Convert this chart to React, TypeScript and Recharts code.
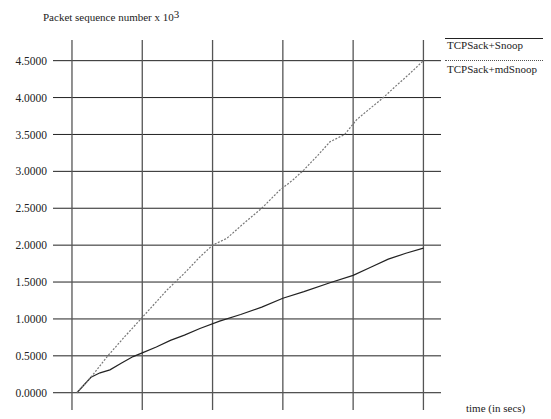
import React from 'react';
import { LineChart, XAxis, YAxis, Line, ReferenceLine } from 'recharts';

// time (grid columns at 0..50), sequence numbers x 10^3
const snoopTime = [0.7, 2.7, 4, 5.4, 7, 8.7, 10, 12, 14, 16, 18.2, 21, 24, 27, 30, 33, 36.7, 40, 42.5, 45, 47.5, 50];
const snoopSeq = [0, 0.21, 0.27, 0.31, 0.4, 0.49, 0.54, 0.62, 0.71, 0.78, 0.87, 0.97, 1.06, 1.16, 1.28, 1.37, 1.49, 1.59, 1.7, 1.81, 1.89, 1.96];

const mdTime = [0.7, 2.7, 5.1, 7.5, 9.8, 13.5, 16, 18.2, 20, 22, 24.5, 27, 29.5, 31.4, 33, 35, 36.7, 38.8, 40.5, 42, 44.3, 46, 48, 50];
const mdSeq = [0, 0.21, 0.5, 0.76, 1.0, 1.39, 1.62, 1.84, 2.0, 2.09, 2.3, 2.5, 2.74, 2.88, 3.02, 3.22, 3.4, 3.5, 3.7, 3.82, 4.0, 4.15, 4.32, 4.5];

const yTicks = [0, 0.5, 1, 1.5, 2, 2.5, 3, 3.5, 4, 4.5];
const xGrid = [0, 10, 20, 30, 40, 50];

const snoopData = snoopTime.map((t, i) => ({ t, v: snoopSeq[i] }));
const mdData = mdTime.map((t, i) => ({ t, v: mdSeq[i] }));

const font = '"Liberation Serif", "DejaVu Serif", serif';

function App(): JSX.Element {
  return (
    <div style={{ position: 'relative', width: 543, height: 411, fontFamily: font, fontSize: 11, color: '#222' }}>
      <LineChart width={543} height={411} margin={{ top: 32, right: 110, bottom: 9, left: 0 }}>
        <XAxis type="number" dataKey="t" domain={[-2.7, 52.5]} hide allowDataOverflow />
        <YAxis
          type="number"
          dataKey="v"
          domain={[-0.234, 4.78]}
          ticks={yTicks}
          width={45}
          axisLine={false}
          tickLine={false}
          tickMargin={0}
          interval={0}
          allowDataOverflow
          tickFormatter={(v: number) => v.toFixed(4)}
          tick={{ fill: '#222', fontSize: 11.5, fontFamily: font }}
        />
        {yTicks.map((y) => (
          <ReferenceLine key={'h' + y} y={y} stroke="#222" strokeWidth={1} />
        ))}
        {xGrid.map((x) => (
          <ReferenceLine key={'v' + x} x={x} stroke="#555" strokeWidth={1.3} />
        ))}
        <Line data={snoopData} dataKey="v" type="linear" stroke="#222" strokeWidth={1.2} dot={false} isAnimationActive={false} />
        <Line data={mdData} dataKey="v" type="linear" stroke="#777" strokeWidth={1.2} strokeDasharray="2 1.5" dot={false} isAnimationActive={false} />
      </LineChart>
      <div style={{ position: 'absolute', left: 35, top: 3, whiteSpace: 'nowrap' }}>
        Packet sequence number x 10<sup style={{ fontSize: 11, verticalAlign: 'top', position: 'relative', top: -3 }}>3</sup>
      </div>
      <div style={{ position: 'absolute', left: 458, top: 394, whiteSpace: 'nowrap' }}>time (in secs)</div>
      <div style={{ position: 'absolute', left: 437, top: 30, width: 106, borderTop: '1px solid #222' }} />
      <div style={{ position: 'absolute', left: 439, top: 31, whiteSpace: 'nowrap' }}>TCPSack+Snoop</div>
      <div style={{ position: 'absolute', left: 437, top: 52, width: 106, borderTop: '1px dotted #555' }} />
      <div style={{ position: 'absolute', left: 439, top: 55, whiteSpace: 'nowrap' }}>TCPSack+mdSnoop</div>
    </div>
  );
}

export default App;
